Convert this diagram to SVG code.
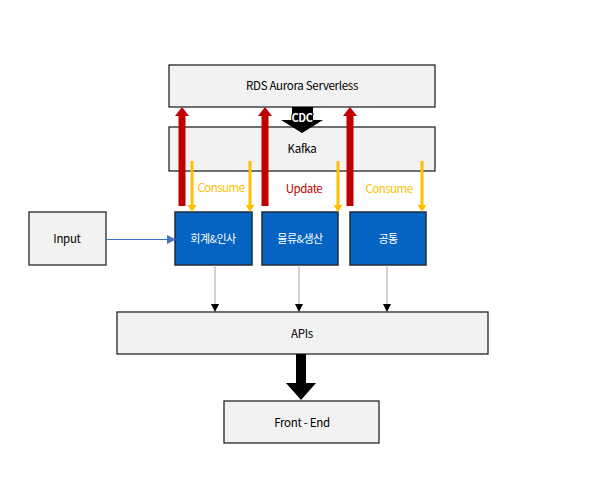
<svg xmlns="http://www.w3.org/2000/svg" width="595" height="504" viewBox="0 0 595 504">
<style>
.box{fill:#F2F2F2;stroke:#262626;stroke-width:1.3}
.blue{fill:#0563C1;stroke:#1F2A3A;stroke-width:1.5}
.t{font-family:"Noto Sans CJK KR","Liberation Sans",sans-serif;font-size:11.5px;fill:#000;text-anchor:middle;letter-spacing:-0.3px}
.tw{font-family:"Noto Sans CJK KR","Liberation Sans",sans-serif;font-size:11px;fill:#fff;text-anchor:middle;letter-spacing:-0.5px}
.lab{font-family:"Noto Sans CJK KR","Liberation Sans",sans-serif;font-size:11.5px;text-anchor:middle;letter-spacing:-0.5px}
.red{fill:#C00000}
.yel{fill:#FFC000}
.gray{stroke:#A6A6A6;stroke-width:1;fill:none}
</style>
<defs>
<marker id="ah" markerWidth="8" markerHeight="8" refX="7" refY="4" orient="auto" markerUnits="userSpaceOnUse">
<path d="M0,0 L8,4 L0,8 Z" fill="#000"/>
</marker>
<marker id="ahb" markerWidth="9" markerHeight="9" refX="8" refY="4.5" orient="auto" markerUnits="userSpaceOnUse">
<path d="M0,0 L9,4.5 L0,9 Z" fill="#4472C4"/>
</marker>
</defs>
<rect width="595" height="504" fill="#fff"/>
<g id="rds"><rect class="box" x="169" y="65" width="266" height="42"/><text class="t" x="302" y="90" font-size="12.5" letter-spacing="0">RDS Aurora Serverless</text></g>
<g id="kafka"><rect class="box" x="169" y="127" width="266" height="44"/><text class="t" x="302" y="153">Kafka</text></g>
<g id="input"><rect class="box" x="29" y="212" width="77" height="53"/><text class="t" x="67" y="243">Input</text></g>
<g id="n1"><rect class="blue" x="175" y="212" width="77" height="53"/><text class="tw" x="213" y="243">회계&amp;인사</text></g>
<g id="n2"><rect class="blue" x="262" y="212" width="76" height="53"/><text class="tw" x="300" y="243">물류&amp;생산</text></g>
<g id="n3"><rect class="blue" x="350" y="212" width="76" height="53"/><text class="tw" x="388" y="243">공통</text></g>
<g id="apis"><rect class="box" x="117" y="312" width="371" height="42"/><text class="t" x="302" y="338">APIs</text></g>
<g id="frontend"><rect class="box" x="224" y="401" width="155" height="42"/><text class="t" x="302" y="427" font-size="12" letter-spacing="0">Front - End</text></g>
<g id="connectors">
<path d="M292,107 L313,107 L313,120 L323,120 L302,133 L281,120 L292,120 Z" fill="#000"/>
<text x="302" y="122" font-family="Noto Sans CJK KR, Liberation Sans, sans-serif" font-size="11" font-weight="bold" fill="#fff" stroke="#000" stroke-width="2" paint-order="stroke" text-anchor="middle" letter-spacing="-0.5">CDC</text>
<path class="red" d="M178.5,206 L178.5,116 L175,116 L182,107 L189,116 L185.5,116 L185.5,206 Z"/>
<path class="red" d="M261.5,206 L261.5,116 L258,116 L265,107 L272,116 L268.5,116 L268.5,206 Z"/>
<path class="red" d="M346.5,206 L346.5,116 L343,116 L350,107 L357,116 L353.5,116 L353.5,206 Z"/>
<path class="yel" d="M190.5,161 L193.5,161 L193.5,205 L196.5,205 L192,212 L187.5,205 L190.5,205 Z"/>
<path class="yel" d="M248.5,161 L251.5,161 L251.5,205 L254.5,205 L250,212 L245.5,205 L248.5,205 Z"/>
<path class="yel" d="M336.5,161 L339.5,161 L339.5,205 L342.5,205 L338,212 L333.5,205 L336.5,205 Z"/>
<path class="yel" d="M420.5,161 L423.5,161 L423.5,205 L426.5,205 L422,212 L417.5,205 L420.5,205 Z"/>
<text class="lab" x="221" y="192" fill="#FFC000">Consume</text>
<text class="lab" x="304" y="193" fill="#C00000">Update</text>
<text class="lab" x="389" y="193" fill="#FFC000">Consume</text>
<line x1="106" y1="239.5" x2="175" y2="239.5" stroke="#4472C4" stroke-width="1" marker-end="url(#ahb)"/>
<line class="gray" x1="215" y1="265" x2="215" y2="311" marker-end="url(#ah)"/>
<line class="gray" x1="299" y1="265" x2="299" y2="311" marker-end="url(#ah)"/>
<line class="gray" x1="387" y1="265" x2="387" y2="311" marker-end="url(#ah)"/>
<path d="M296,354 L306,354 L306,383 L316,383 L301,400 L286,383 L296,383 Z" fill="#000"/>
</g>
</svg>
